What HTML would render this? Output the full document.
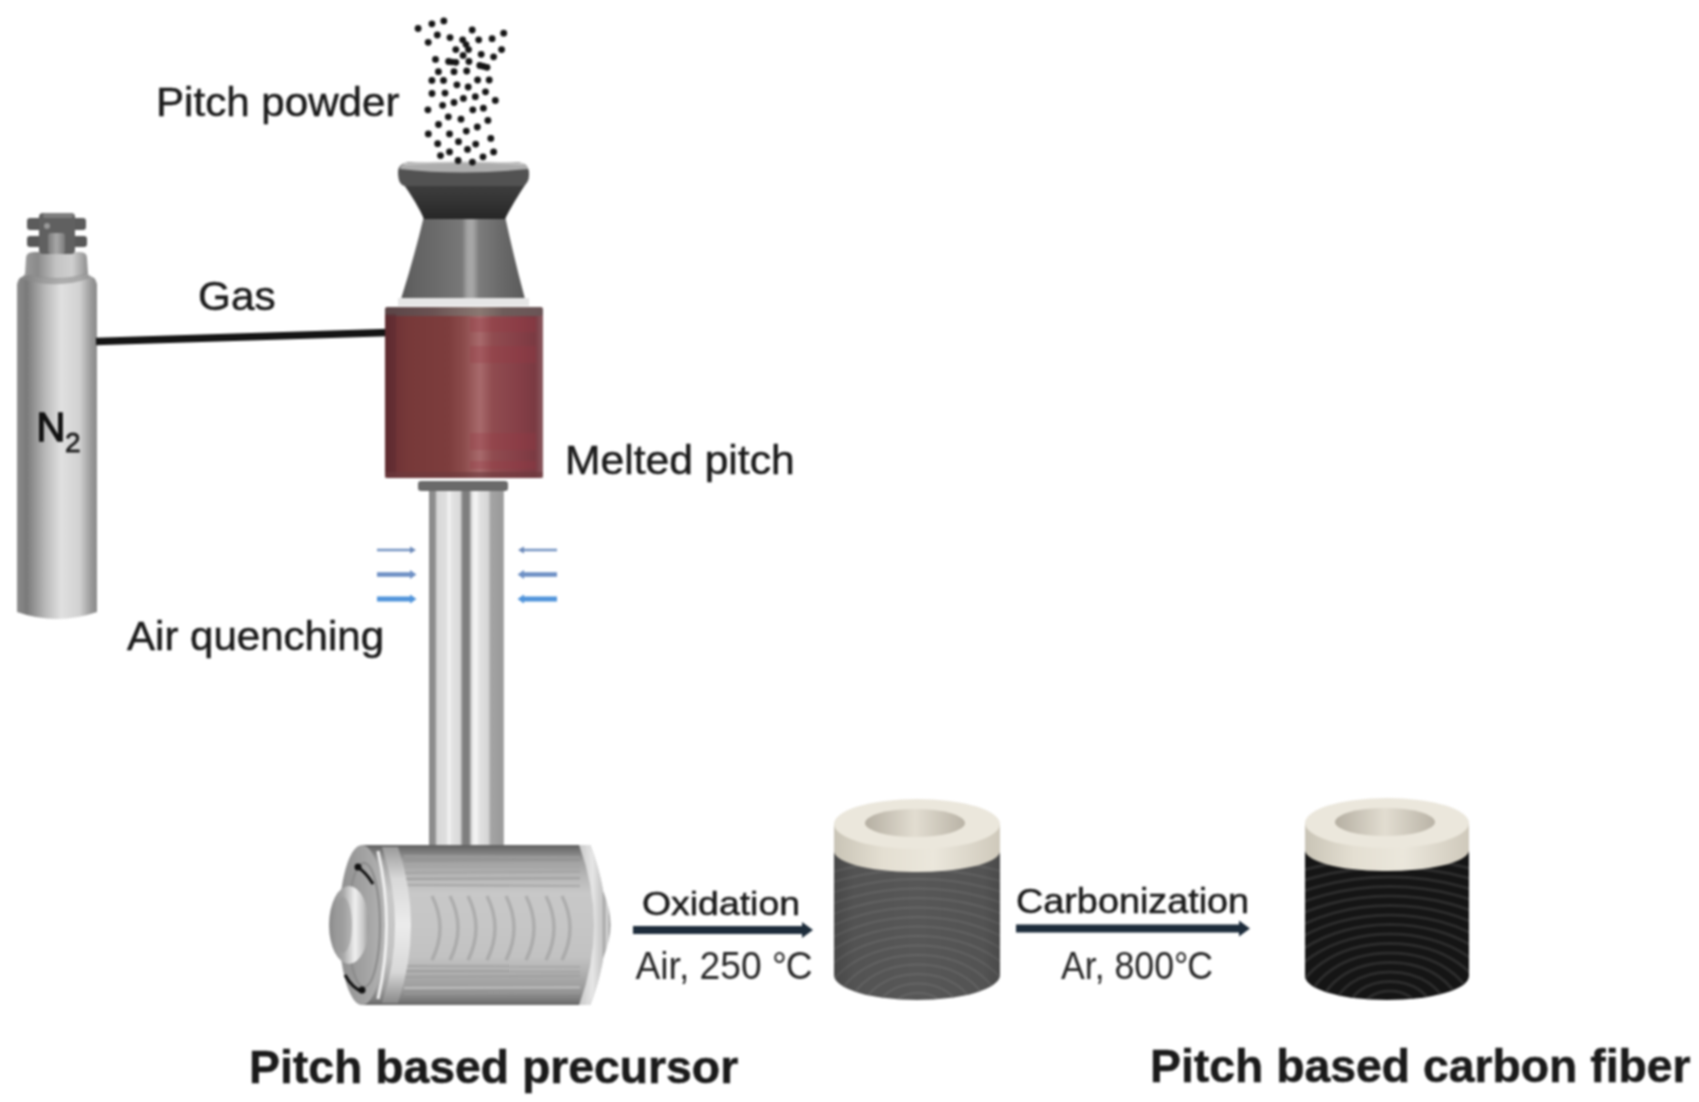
<!DOCTYPE html>
<html><head><meta charset="utf-8">
<style>
html,body{margin:0;padding:0;background:#fff;}
body{width:1699px;height:1102px;overflow:hidden;position:relative;}
svg{position:absolute;left:0;top:0;filter:blur(0.8px);}
text{font-family:"Liberation Sans",sans-serif;fill:#1a1a1a;stroke:#1a1a1a;stroke-width:0.5px;}
</style></head>
<body>
<svg width="1699" height="1102" viewBox="0 0 1699 1102">
<defs>
  <linearGradient id="n2body" x1="0" x2="1" y1="0" y2="0">
    <stop offset="0" stop-color="#8c8c8c"/>
    <stop offset="0.12" stop-color="#7a7a7a"/>
    <stop offset="0.35" stop-color="#b8b8b8"/>
    <stop offset="0.55" stop-color="#e0e0e0"/>
    <stop offset="0.78" stop-color="#d2d2d2"/>
    <stop offset="0.93" stop-color="#999"/>
    <stop offset="1" stop-color="#8a8a8a"/>
  </linearGradient>
  <linearGradient id="n2neck" x1="0" x2="1" y1="0" y2="0">
    <stop offset="0" stop-color="#9a9a9a"/>
    <stop offset="0.2" stop-color="#8a8a8a"/>
    <stop offset="0.5" stop-color="#c4c4c4"/>
    <stop offset="0.75" stop-color="#cfcfcf"/>
    <stop offset="1" stop-color="#8e8e8e"/>
  </linearGradient>
  <linearGradient id="valve" x1="0" x2="1" y1="0" y2="0">
    <stop offset="0" stop-color="#6a6a6a"/>
    <stop offset="0.45" stop-color="#8a8a8a"/>
    <stop offset="1" stop-color="#5a5a5a"/>
  </linearGradient>
  <linearGradient id="heater" x1="0" x2="1" y1="0" y2="0">
    <stop offset="0" stop-color="#5e2a2e"/>
    <stop offset="0.05" stop-color="#6e3236"/>
    <stop offset="0.15" stop-color="#773939"/>
    <stop offset="0.4" stop-color="#7d3d3d"/>
    <stop offset="0.5" stop-color="#8c4c4c"/>
    <stop offset="0.6" stop-color="#a86a6c"/>
    <stop offset="0.68" stop-color="#904c50"/>
    <stop offset="0.85" stop-color="#853f47"/>
    <stop offset="0.95" stop-color="#7a3a42"/>
    <stop offset="1" stop-color="#8a5a60"/>
  </linearGradient>
  <linearGradient id="hopLow" x1="0" x2="1" y1="0" y2="0">
    <stop offset="0" stop-color="#585858"/>
    <stop offset="0.1" stop-color="#626262"/>
    <stop offset="0.3" stop-color="#6c6c6c"/>
    <stop offset="0.49" stop-color="#787878"/>
    <stop offset="0.54" stop-color="#a6a6a6"/>
    <stop offset="0.58" stop-color="#a6a6a6"/>
    <stop offset="0.63" stop-color="#7c7c7c"/>
    <stop offset="0.8" stop-color="#6a6a6a"/>
    <stop offset="1" stop-color="#5a5a5a"/>
  </linearGradient>
  <linearGradient id="hopUp" x1="0" x2="0" y1="0" y2="1">
    <stop offset="0" stop-color="#404040"/>
    <stop offset="0.5" stop-color="#343434"/>
    <stop offset="1" stop-color="#262626"/>
  </linearGradient>
  <linearGradient id="rod" x1="0" x2="1" y1="0" y2="0">
    <stop offset="0" stop-color="#8a8a8a"/>
    <stop offset="0.08" stop-color="#8e8e8e"/>
    <stop offset="0.107" stop-color="#d8d8d8"/>
    <stop offset="0.227" stop-color="#dedede"/>
    <stop offset="0.267" stop-color="#f4f4f4"/>
    <stop offset="0.307" stop-color="#e2e2e2"/>
    <stop offset="0.413" stop-color="#dadada"/>
    <stop offset="0.453" stop-color="#7e7e7e"/>
    <stop offset="0.533" stop-color="#7e7e7e"/>
    <stop offset="0.573" stop-color="#e6e6e6"/>
    <stop offset="0.627" stop-color="#f6f6f6"/>
    <stop offset="0.68" stop-color="#e0e0e0"/>
    <stop offset="0.787" stop-color="#d6d6d6"/>
    <stop offset="0.827" stop-color="#a4a4a4"/>
    <stop offset="0.973" stop-color="#9a9a9a"/>
    <stop offset="1" stop-color="#b0b0b0"/>
  </linearGradient>
  <linearGradient id="roller" x1="0" x2="0" y1="0" y2="1">
    <stop offset="0" stop-color="#606060"/>
    <stop offset="0.04" stop-color="#7a7a7a"/>
    <stop offset="0.1" stop-color="#a0a0a0"/>
    <stop offset="0.2" stop-color="#b8b8b8"/>
    <stop offset="0.3" stop-color="#c8c8c8"/>
    <stop offset="0.5" stop-color="#c6c6c6"/>
    <stop offset="0.7" stop-color="#c2c2c2"/>
    <stop offset="0.8" stop-color="#b0b0b0"/>
    <stop offset="0.9" stop-color="#9a9a9a"/>
    <stop offset="0.96" stop-color="#808080"/>
    <stop offset="1" stop-color="#666"/>
  </linearGradient>
  <linearGradient id="hub" x1="0" x2="1" y1="0" y2="0">
    <stop offset="0" stop-color="#8a8a8a"/>
    <stop offset="0.35" stop-color="#a6a6a6"/>
    <stop offset="0.65" stop-color="#f0f0f0"/>
    <stop offset="0.85" stop-color="#c8c8c8"/>
    <stop offset="1" stop-color="#9a9a9a"/>
  </linearGradient>
  <linearGradient id="cream" x1="0" x2="1" y1="0" y2="0">
    <stop offset="0" stop-color="#c9c4b6"/>
    <stop offset="0.3" stop-color="#e4dfd2"/>
    <stop offset="0.6" stop-color="#ebe7dc"/>
    <stop offset="1" stop-color="#cfc9bb"/>
  </linearGradient>
  <linearGradient id="hole" x1="0" x2="1" y1="0" y2="0">
    <stop offset="0" stop-color="#b5afa2"/>
    <stop offset="0.5" stop-color="#e2ddd1"/>
    <stop offset="1" stop-color="#b9b3a6"/>
  </linearGradient>
  <linearGradient id="flange" x1="0" x2="1" y1="0" y2="0">
    <stop offset="0" stop-color="#c8c8c8"/>
    <stop offset="0.5" stop-color="#e6e6e6"/>
    <stop offset="1" stop-color="#b8b8b8"/>
  </linearGradient>
  <linearGradient id="face" x1="0" x2="1" y1="0" y2="0">
    <stop offset="0" stop-color="#8e8e8e"/>
    <stop offset="0.6" stop-color="#a4a4a4"/>
    <stop offset="1" stop-color="#b4b4b4"/>
  </linearGradient>
  <linearGradient id="stem" x1="0" x2="1" y1="0" y2="0">
    <stop offset="0" stop-color="#7a7a7a"/>
    <stop offset="0.5" stop-color="#a8a8a8"/>
    <stop offset="1" stop-color="#7a7a7a"/>
  </linearGradient>
  <linearGradient id="lband" x1="0" x2="0" y1="0" y2="1">
    <stop offset="0" stop-color="#9a9a9a"/>
    <stop offset="0.2" stop-color="#d8d8d8"/>
    <stop offset="0.5" stop-color="#ececec"/>
    <stop offset="0.8" stop-color="#d8d8d8"/>
    <stop offset="1" stop-color="#8a8a8a"/>
  </linearGradient>
  <linearGradient id="rhub" x1="0" x2="1" y1="0" y2="0">
    <stop offset="0" stop-color="#9a9a9a"/>
    <stop offset="0.6" stop-color="#d8d8d8"/>
    <stop offset="1" stop-color="#8a8a8a"/>
  </linearGradient>
  <linearGradient id="cylshade" x1="0" x2="1" y1="0" y2="0">
    <stop offset="0" stop-color="#000" stop-opacity="0.18"/>
    <stop offset="0.12" stop-color="#000" stop-opacity="0.05"/>
    <stop offset="0.5" stop-color="#000" stop-opacity="0"/>
    <stop offset="0.9" stop-color="#000" stop-opacity="0.05"/>
    <stop offset="1" stop-color="#000" stop-opacity="0.15"/>
  </linearGradient>
  <linearGradient id="hrim" x1="0" x2="1" y1="0" y2="0">
    <stop offset="0" stop-color="#5a4446"/>
    <stop offset="0.3" stop-color="#6a5252"/>
    <stop offset="0.6" stop-color="#8a7872"/>
    <stop offset="0.75" stop-color="#6e5c5a"/>
    <stop offset="1" stop-color="#6a5456"/>
  </linearGradient>
</defs>

<!-- ===== N2 cylinder ===== -->
<g id="n2">
  <path d="M17,284 Q18,276 30,274 Q57,270 84,274 Q96,276 97,284 L97,612 Q57,626 17,612 Z" fill="url(#n2body)"/>
  <path d="M26,258 Q26,252 34,252 L80,252 Q87,252 87,258 L88,274 Q57,284 25,274 Z" fill="url(#n2neck)"/>
  <path d="M25,273 Q57,283 88,273 L90,278 Q57,290 22,279 Z" fill="#8c8c8c" opacity="0.6"/>
  <rect x="27" y="218" width="59" height="12" rx="3" fill="#5c5c5c"/>
  <rect x="27" y="236" width="60" height="11" rx="3" fill="#585858"/>
  <rect x="39" y="213" width="36" height="41" rx="4" fill="#606060"/>
  <rect x="43" y="213" width="30" height="5" rx="2" fill="#7e7e7e"/><circle cx="47" cy="226" r="3" fill="#9a9a9a"/>
  <rect x="48" y="233" width="17" height="21" rx="3" fill="url(#stem)"/>
  <text x="36.5" y="440.5" font-size="40" style="fill:#111;stroke:#111;stroke-width:1.4px">N</text>
  <text x="65" y="451.5" font-size="28" style="fill:#222;stroke:#222;stroke-width:0.8px">2</text>
</g>

<!-- gas line -->
<line x1="96" y1="341.5" x2="388" y2="332.5" stroke="#141414" stroke-width="7.5"/>
<text transform="translate(198,309.5) scale(1.058,1)" font-size="40">Gas</text>

<!-- ===== Hopper ===== -->
<g id="hopper">
  <path d="M424,216 Q414,258 401,299 L525,299 Q514,258 505,216 Z" fill="url(#hopLow)"/>
  <path d="M402,182 Q417,203 424,219 L505,219 Q513,203 527,182 Z" fill="url(#hopUp)"/>
  <path d="M398,172 Q398,186 406,186 L522,186 Q530,184 529,172 Q528,162 515,162 L410,162 Q398,163 398,172 Z" fill="#525252"/>
  <path d="M400,169 Q400,162 416,162 L512,162 Q528,162 528,169 Q462,176 400,169 Z" fill="#adadad"/>
  <path d="M404,164 Q462,160 524,164" stroke="#d0d0d0" stroke-width="1.5" fill="none"/>
  <rect x="398" y="298" width="131" height="8" fill="#e6e6e6"/>
</g>

<!-- ===== Heater ===== -->
<rect x="385" y="307" width="158" height="171" rx="3" fill="url(#heater)"/>
<g fill="#9a3844" opacity="0.3">
  <rect x="470" y="318" width="66" height="14"/>
  <rect x="470" y="346" width="66" height="17"/>
  <rect x="470" y="433" width="66" height="17"/>
  <rect x="470" y="461" width="66" height="8"/>
</g>
<rect x="385" y="307" width="158" height="9" rx="3" fill="url(#hrim)"/>
<rect x="386" y="314" width="10" height="162" fill="#5a2a30" opacity="0.5"/>
<rect x="385" y="472" width="158" height="6" fill="#6a3a3e" opacity="0.6"/>

<!-- nozzle -->
<rect x="418" y="481" width="90" height="10" rx="3" fill="#6a6a6a"/>

<!-- rods -->
<rect x="429" y="491" width="75" height="356" fill="url(#rod)"/>

<!-- air arrows -->
<g>
  <line x1="377" y1="550" x2="411" y2="550" stroke="#7393c2" stroke-width="2.5"/>
  <path d="M410,546.5 L416,550 L410,553.5 Z" fill="#6a88b8"/>
  <line x1="377" y1="574.5" x2="411" y2="574.5" stroke="#6d8fc4" stroke-width="4.5"/>
  <path d="M410,570 L416.5,574.5 L410,579 Z" fill="#6d8fc4"/>
  <line x1="377" y1="599" x2="411" y2="599" stroke="#4f93da" stroke-width="5"/>
  <path d="M410,594.5 L416.5,599 L410,603.5 Z" fill="#4f93da"/>

  <line x1="523" y1="550" x2="557" y2="550" stroke="#7393c2" stroke-width="2.5"/>
  <path d="M524,546.5 L518,550 L524,553.5 Z" fill="#6a88b8"/>
  <line x1="523" y1="574.5" x2="557" y2="574.5" stroke="#6d8fc4" stroke-width="4.5"/>
  <path d="M524,570 L517.5,574.5 L524,579 Z" fill="#6d8fc4"/>
  <line x1="523" y1="599" x2="557" y2="599" stroke="#4f93da" stroke-width="5"/>
  <path d="M524,594.5 L517.5,599 L524,603.5 Z" fill="#4f93da"/>
</g>

<!-- ===== Roller ===== -->
<g id="roller">
  <path d="M362,845 L590,845 Q606,885 606,925 Q606,965 590,1005 L362,1005 Z" fill="url(#roller)"/>
  <line x1="404" y1="856" x2="580" y2="857.3" stroke="#a4a4a4" stroke-width="1.9" opacity="0.6"/><line x1="404" y1="861" x2="580" y2="859.7" stroke="#8e8e8e" stroke-width="2.0" opacity="0.6"/><line x1="404" y1="867" x2="580" y2="867.2" stroke="#a4a4a4" stroke-width="2.4" opacity="0.6"/><line x1="404" y1="873" x2="580" y2="871.6" stroke="#9a9a9a" stroke-width="1.9" opacity="0.6"/><line x1="404" y1="879" x2="580" y2="878.2" stroke="#8e8e8e" stroke-width="2.1" opacity="0.6"/><line x1="404" y1="885" x2="580" y2="886.0" stroke="#8e8e8e" stroke-width="1.6" opacity="0.6"/><line x1="404" y1="966" x2="580" y2="966.4" stroke="#9a9a9a" stroke-width="2.1" opacity="0.6"/><line x1="404" y1="971" x2="580" y2="971.2" stroke="#8e8e8e" stroke-width="1.9" opacity="0.6"/><line x1="404" y1="977" x2="580" y2="975.6" stroke="#9a9a9a" stroke-width="2.4" opacity="0.6"/><line x1="404" y1="983" x2="580" y2="982.8" stroke="#a4a4a4" stroke-width="2.0" opacity="0.6"/><line x1="404" y1="988" x2="580" y2="987.4" stroke="#d0d0d0" stroke-width="2.3" opacity="0.6"/><line x1="404" y1="994" x2="580" y2="992.8" stroke="#9a9a9a" stroke-width="2.1" opacity="0.6"/>
  <path d="M432,896 Q448,928 432,960" stroke="#8e8e8e" stroke-width="3.5" fill="none" opacity="0.45"/><path d="M450,896 Q466,928 450,960" stroke="#8e8e8e" stroke-width="3.5" fill="none" opacity="0.45"/><path d="M468,896 Q484,928 468,960" stroke="#8e8e8e" stroke-width="3.5" fill="none" opacity="0.45"/><path d="M487,896 Q503,928 487,960" stroke="#8e8e8e" stroke-width="3.5" fill="none" opacity="0.45"/><path d="M506,896 Q522,928 506,960" stroke="#8e8e8e" stroke-width="3.5" fill="none" opacity="0.45"/><path d="M526,896 Q542,928 526,960" stroke="#8e8e8e" stroke-width="3.5" fill="none" opacity="0.45"/><path d="M546,896 Q562,928 546,960" stroke="#8e8e8e" stroke-width="3.5" fill="none" opacity="0.45"/><path d="M562,896 Q578,928 562,960" stroke="#8e8e8e" stroke-width="3.5" fill="none" opacity="0.45"/>
  <path d="M579,845 L590,845 Q606,885 606,925 Q606,965 590,1005 L579,1005 Q594,965 594,925 Q594,885 579,845 Z" fill="url(#flange)"/>
  <path d="M603,891 Q618,925 603,958 Z" fill="url(#rhub)"/>
  <path d="M382,847 Q408,925 382,1003 L398,1003 Q424,925 398,847 Z" fill="url(#lband)"/>
  <ellipse cx="362" cy="925" rx="23" ry="80" fill="url(#face)"/>
  <ellipse cx="364" cy="925" rx="16" ry="62" fill="none" stroke="#8a8a8a" stroke-width="2"/>
  <path d="M378,851 Q395,925 378,999" stroke="#f0f0f0" stroke-width="3" fill="none"/>
  <ellipse cx="349" cy="925" rx="20" ry="39" fill="url(#hub)"/>
  <ellipse cx="343" cy="925" rx="9" ry="28" fill="#9a9a9a" opacity="0.6"/>
  <path d="M356,866 Q366,872 373,884" stroke="#111" stroke-width="3" fill="none"/>
  <circle cx="358" cy="867" r="3.5" fill="#111"/>
  <path d="M345,975 Q352,988 363,992" stroke="#111" stroke-width="3" fill="none"/>
  <circle cx="362" cy="990" r="3.5" fill="#111"/>
</g>

<!-- process arrows -->
<line x1="633" y1="930" x2="805" y2="930" stroke="#1d2c3b" stroke-width="8"/>
<path d="M802,922 L813,930 L802,938 Z" fill="#1d2c3b"/>
<line x1="1016" y1="928.5" x2="1242" y2="928.5" stroke="#1d2c3b" stroke-width="8"/>
<path d="M1239,920.5 L1250,928.5 L1239,936.5 Z" fill="#1d2c3b"/>

<!-- ===== Oxidized cylinder ===== -->
<clipPath id="oxclip"><path d="M834,830 L834,975 A83,25 0 0 0 1000,975 L1000,830 Z"/></clipPath>
<g id="oxcyl">
  <path d="M834,830 L834,975 A83,25 0 0 0 1000,975 L1000,830 Z" fill="#575757"/>
  <g clip-path="url(#oxclip)"><g fill="none" stroke="#666666" stroke-width="2"><ellipse cx="918" cy="1012" rx="27.6" ry="19.0"/><ellipse cx="918" cy="1012" rx="41.3" ry="28.5"/><ellipse cx="918" cy="1012" rx="55.1" ry="38.0"/><ellipse cx="918" cy="1012" rx="68.9" ry="47.5"/><ellipse cx="918" cy="1012" rx="82.6" ry="57.0"/><ellipse cx="918" cy="1012" rx="96.4" ry="66.5"/><ellipse cx="918" cy="1012" rx="110.2" ry="76.0"/><ellipse cx="918" cy="1012" rx="124.0" ry="85.5"/><ellipse cx="918" cy="1012" rx="137.8" ry="95.0"/><ellipse cx="918" cy="1012" rx="151.5" ry="104.5"/><ellipse cx="918" cy="1012" rx="165.3" ry="114.0"/><ellipse cx="918" cy="1012" rx="179.1" ry="123.5"/><ellipse cx="918" cy="1012" rx="192.8" ry="133.0"/><ellipse cx="918" cy="1012" rx="206.6" ry="142.5"/><ellipse cx="918" cy="1012" rx="220.4" ry="152.0"/></g>
  <rect x="834" y="830" width="166" height="190" fill="url(#cylshade)"/></g>
  <path d="M834,824 L834,850 A83,21 0 0 0 1000,852 L1000,824 Z" fill="url(#cream)"/>
  <ellipse cx="917" cy="824" rx="83" ry="25" fill="#ebe7dc"/>
  <ellipse cx="915" cy="823" rx="50" ry="14" fill="url(#hole)"/>
</g>

<!-- ===== Carbon cylinder ===== -->
<clipPath id="cfclip"><path d="M1305,830 L1305,976 A82,24 0 0 0 1469,976 L1469,830 Z"/></clipPath>
<g id="cfcyl">
  <path d="M1305,830 L1305,976 A82,24 0 0 0 1469,976 L1469,830 Z" fill="#151515"/>
  <g clip-path="url(#cfclip)"><g fill="none" stroke="#2d2d2d" stroke-width="3"><ellipse cx="1390" cy="1010" rx="27.6" ry="19.0"/><ellipse cx="1390" cy="1010" rx="41.3" ry="28.5"/><ellipse cx="1390" cy="1010" rx="55.1" ry="38.0"/><ellipse cx="1390" cy="1010" rx="68.9" ry="47.5"/><ellipse cx="1390" cy="1010" rx="82.6" ry="57.0"/><ellipse cx="1390" cy="1010" rx="96.4" ry="66.5"/><ellipse cx="1390" cy="1010" rx="110.2" ry="76.0"/><ellipse cx="1390" cy="1010" rx="124.0" ry="85.5"/><ellipse cx="1390" cy="1010" rx="137.8" ry="95.0"/><ellipse cx="1390" cy="1010" rx="151.5" ry="104.5"/><ellipse cx="1390" cy="1010" rx="165.3" ry="114.0"/><ellipse cx="1390" cy="1010" rx="179.1" ry="123.5"/><ellipse cx="1390" cy="1010" rx="192.8" ry="133.0"/><ellipse cx="1390" cy="1010" rx="206.6" ry="142.5"/><ellipse cx="1390" cy="1010" rx="220.4" ry="152.0"/></g></g>
  <path d="M1305,823 L1305,849 A82,21 0 0 0 1469,851 L1469,823 Z" fill="url(#cream)"/>
  <ellipse cx="1387" cy="823" rx="82" ry="25" fill="#ebe7dc"/>
  <ellipse cx="1385" cy="822" rx="50" ry="14" fill="url(#hole)"/>
</g>

<!-- ===== Texts ===== -->
<text transform="translate(156,115.5) scale(1.053,1)" font-size="40">Pitch powder</text>
<text transform="translate(565,474) scale(1.065,1)" font-size="40">Melted pitch</text>
<text transform="translate(127,649.5) scale(1.026,1)" font-size="41">Air quenching</text>
<text transform="translate(642,915) scale(1.10,1)" font-size="34">Oxidation</text>
<text transform="translate(635.5,979) scale(0.979,1)" font-size="38" style="stroke-width:0;fill:#262626">Air, 250 °<tspan dx="-1">C</tspan></text>
<text transform="translate(1016,912.5) scale(1.08,1)" font-size="35">Carbonization</text>
<text transform="translate(1061,979) scale(0.939,1)" font-size="38" style="stroke-width:0;fill:#262626">Ar, 800°<tspan dx="-1">C</tspan></text>
<text transform="translate(249,1082.5) scale(0.986,1)" font-size="47" font-weight="bold">Pitch based precursor</text>
<text transform="translate(1150,1082) scale(0.986,1)" font-size="47" font-weight="bold">Pitch based carbon fiber</text>

<!-- powder -->
<g id="powder" fill="#151515">
<circle cx="452" cy="62" r="3.3"/><circle cx="483.5" cy="66.4" r="3.3"/><circle cx="466" cy="44.5" r="3.3"/>
<circle cx="418.1" cy="28.5" r="3.4"/>
<circle cx="431.9" cy="23.8" r="3.4"/>
<circle cx="443.8" cy="20.9" r="3.4"/>
<circle cx="437.3" cy="35.0" r="3.4"/>
<circle cx="428.2" cy="42.3" r="3.4"/>
<circle cx="450.0" cy="37.6" r="3.4"/>
<circle cx="462.7" cy="39.8" r="3.4"/>
<circle cx="472.2" cy="30.0" r="3.4"/>
<circle cx="478.7" cy="39.8" r="3.4"/>
<circle cx="492.1" cy="38.7" r="3.4"/>
<circle cx="503.7" cy="33.2" r="3.4"/>
<circle cx="455.8" cy="49.6" r="3.4"/>
<circle cx="468.5" cy="49.6" r="3.4"/>
<circle cx="463.1" cy="55.4" r="3.4"/>
<circle cx="481.2" cy="54.3" r="3.4"/>
<circle cx="493.6" cy="56.8" r="3.4"/>
<circle cx="501.6" cy="49.6" r="3.4"/>
<circle cx="435.5" cy="59.4" r="3.4"/>
<circle cx="448.6" cy="61.5" r="3.4"/>
<circle cx="455.8" cy="62.3" r="3.4"/>
<circle cx="468.9" cy="61.5" r="3.4"/>
<circle cx="479.8" cy="65.5" r="3.4"/>
<circle cx="487.0" cy="67.3" r="3.4"/>
<circle cx="438.4" cy="71.7" r="3.4"/>
<circle cx="454.0" cy="71.7" r="3.4"/>
<circle cx="466.7" cy="71.0" r="3.4"/>
<circle cx="431.9" cy="80.4" r="3.4"/>
<circle cx="443.5" cy="80.4" r="3.4"/>
<circle cx="456.9" cy="84.8" r="3.4"/>
<circle cx="468.2" cy="87.0" r="3.4"/>
<circle cx="477.6" cy="80.0" r="3.4"/>
<circle cx="489.2" cy="80.0" r="3.4"/>
<circle cx="432.0" cy="93.5" r="3.4"/>
<circle cx="445.0" cy="93.1" r="3.4"/>
<circle cx="454.0" cy="102.5" r="3.4"/>
<circle cx="463.4" cy="98.4" r="3.4"/>
<circle cx="475.3" cy="96.7" r="3.4"/>
<circle cx="485.5" cy="91.8" r="3.4"/>
<circle cx="495.3" cy="100.4" r="3.4"/>
<circle cx="427.9" cy="109.8" r="3.4"/>
<circle cx="442.6" cy="105.3" r="3.4"/>
<circle cx="472.8" cy="109.8" r="3.4"/>
<circle cx="483.4" cy="108.2" r="3.4"/>
<circle cx="448.3" cy="116.8" r="3.4"/>
<circle cx="461.0" cy="119.2" r="3.4"/>
<circle cx="487.9" cy="120.4" r="3.4"/>
<circle cx="438.5" cy="124.5" r="3.4"/>
<circle cx="477.3" cy="127.0" r="3.4"/>
<circle cx="466.3" cy="131.1" r="3.4"/>
<circle cx="428.3" cy="133.9" r="3.4"/>
<circle cx="449.5" cy="133.9" r="3.4"/>
<circle cx="490.8" cy="138.4" r="3.4"/>
<circle cx="437.7" cy="143.7" r="3.4"/>
<circle cx="458.5" cy="141.7" r="3.4"/>
<circle cx="475.7" cy="144.1" r="3.4"/>
<circle cx="467.5" cy="149.4" r="3.4"/>
<circle cx="449.5" cy="151.9" r="3.4"/>
<circle cx="440.5" cy="155.6" r="3.4"/>
<circle cx="493.6" cy="151.9" r="3.4"/>
<circle cx="483.0" cy="156.8" r="3.4"/>
<circle cx="458.1" cy="160.5" r="3.4"/>
<circle cx="472.4" cy="162.1" r="3.4"/>
</g>
</svg>
</body></html>
